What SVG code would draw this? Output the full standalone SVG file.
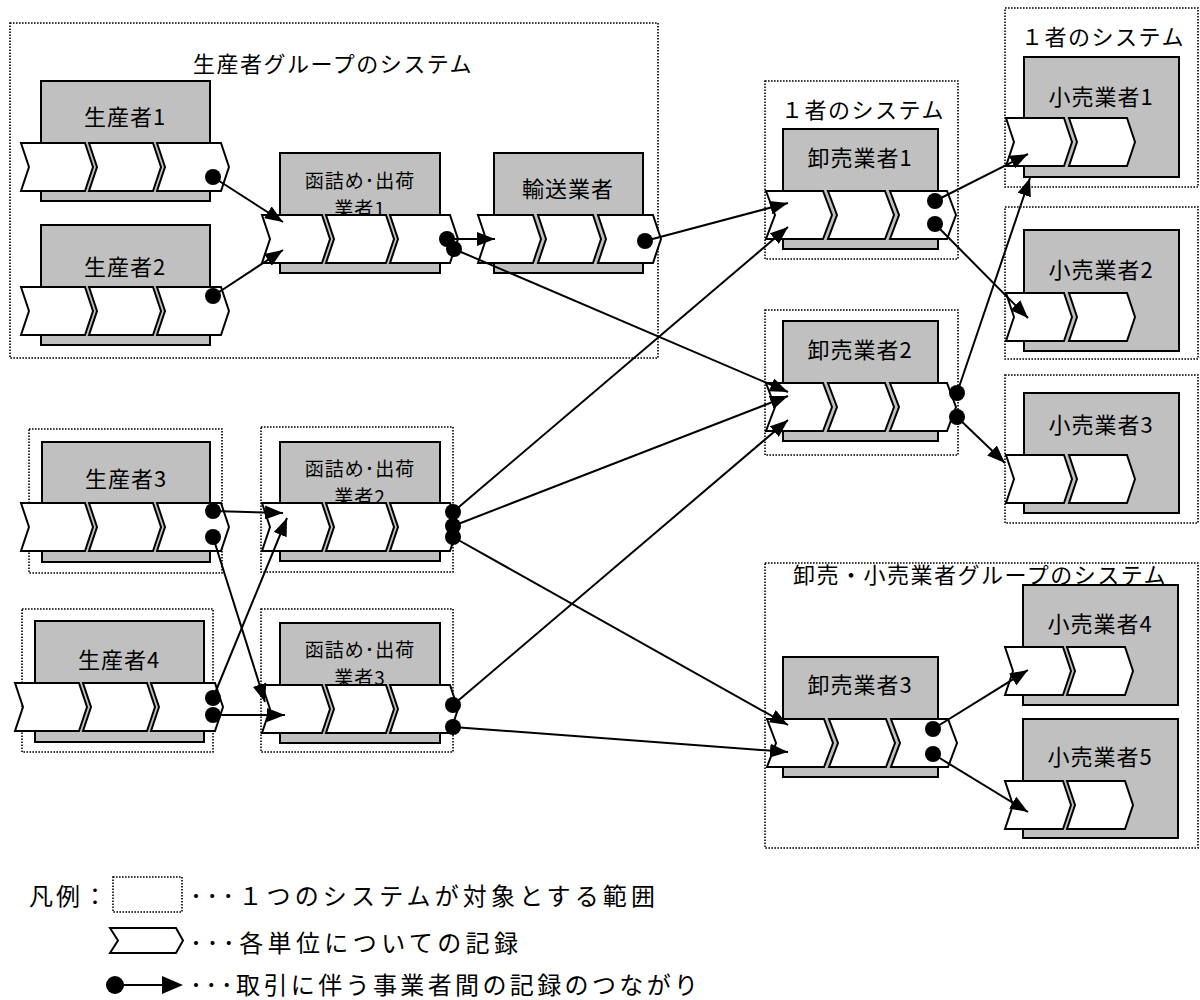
<svg xmlns="http://www.w3.org/2000/svg" width="1200" height="1000" viewBox="0 0 1200 1000">
<style>
text{font-family:"Noto Sans CJK JP","Noto Sans",sans-serif;fill:#000;}
.sys{fill:none;stroke:#000;stroke-width:1.6;stroke-dasharray:1.6 1.4;}
.box{fill:#c0c0c0;stroke:#000;stroke-width:2;}
.chev{fill:#fff;stroke:#000;stroke-width:2;stroke-linejoin:miter;}
.lbl{font-size:22px;letter-spacing:1px;text-anchor:middle;dominant-baseline:central;}
.lbl2{font-size:19px;letter-spacing:1px;text-anchor:middle;dominant-baseline:central;}
.ttl{font-size:22px;letter-spacing:1.5px;text-anchor:middle;dominant-baseline:central;}
.leg{font-size:24px;dominant-baseline:central;}
.conn{fill:none;stroke:#000;stroke-width:2;marker-start:url(#dot);marker-end:url(#arr);}
</style>
<defs>
<marker id="arr" markerUnits="userSpaceOnUse" viewBox="0 0 18 14" refX="18" refY="7" markerWidth="18" markerHeight="14" orient="auto"><path d="M0,0 L18,7 L0,14 z" fill="#000"/></marker>
<marker id="dot" markerUnits="userSpaceOnUse" viewBox="0 0 16 16" refX="8" refY="8" markerWidth="16" markerHeight="16"><circle cx="8" cy="8" r="8" fill="#000"/></marker>
</defs>
<rect width="1200" height="1000" fill="#fff"/>

<g id="sys-producer-group">
<rect class="sys" x="10" y="23" width="648" height="335"/>
<text class="ttl" x="333" y="62">生産者グループのシステム</text>
</g>
<g id="sys-wholesale1"><rect class="sys" x="765" y="81" width="193" height="178"/><text class="ttl" x="863" y="108">１者のシステム</text></g>
<g id="sys-wholesale2"><rect class="sys" x="765" y="310" width="193" height="145"/></g>
<g id="sys-retail1"><rect class="sys" x="1005" y="8" width="193" height="179"/><text class="ttl" x="1103" y="35">１者のシステム</text></g>
<g id="sys-retail2"><rect class="sys" x="1005" y="207" width="193" height="152"/></g>
<g id="sys-retail3"><rect class="sys" x="1005" y="375" width="193" height="148"/></g>
<g id="sys-producer3"><rect class="sys" x="29" y="429" width="193" height="144"/></g>
<g id="sys-packer2"><rect class="sys" x="261" y="427" width="192" height="145"/></g>
<g id="sys-producer4"><rect class="sys" x="22" y="609" width="191" height="143"/></g>
<g id="sys-packer3"><rect class="sys" x="261" y="609" width="192" height="143"/></g>
<g id="sys-wr-group"><rect class="sys" x="765" y="563" width="433" height="285"/><text class="ttl" x="980" y="573">卸売・小売業者グループのシステム</text></g>

<g id="producer1">
<rect class="box" x="41" y="81" width="169" height="120"/>
<text class="lbl" x="125" y="115">生産者1</text>
<polygon class="chev" points="21,143 85,143 93,167 85,191 21,191 29,167"/>
<polygon class="chev" points="89,143 153,143 161,167 153,191 89,191 97,167"/>
<polygon class="chev" points="157,143 221,143 229,167 221,191 157,191 165,167"/>
</g>
<g id="producer2">
<rect class="box" x="41" y="225" width="169" height="120"/>
<text class="lbl" x="125" y="265">生産者2</text>
<polygon class="chev" points="21,287 85,287 93,311 85,335 21,335 29,311"/>
<polygon class="chev" points="89,287 153,287 161,311 153,335 89,335 97,311"/>
<polygon class="chev" points="157,287 221,287 229,311 221,335 157,335 165,311"/>
</g>
<g id="packer1">
<rect class="box" x="280" y="153" width="160" height="120"/>
<text class="lbl2" x="360" y="179">函詰め･出荷</text>
<text class="lbl2" x="360" y="207">業者1</text>
<polygon class="chev" points="262,215 322,215 330,239 322,263 262,263 270,239"/>
<polygon class="chev" points="326,215 386,215 394,239 386,263 326,263 334,239"/>
<polygon class="chev" points="390,215 450,215 458,239 450,263 390,263 398,239"/>
</g>
<g id="transport">
<rect class="box" x="494" y="153" width="149" height="120"/>
<text class="lbl" x="568" y="187">輸送業者</text>
<polygon class="chev" points="478,215 533,215 541,239 533,263 478,263 486,239"/>
<polygon class="chev" points="538,215 593,215 601,239 593,263 538,263 546,239"/>
<polygon class="chev" points="598,215 653,215 661,239 653,263 598,263 606,239"/>
</g>
<g id="wholesaler1">
<rect class="box" x="783" y="129" width="155" height="120"/>
<text class="lbl" x="860" y="156">卸売業者1</text>
<polygon class="chev" points="766,191 823,191 832,215 823,239 766,239 775,215"/>
<polygon class="chev" points="828,191 885,191 894,215 885,239 828,239 837,215"/>
<polygon class="chev" points="890,191 947,191 956,215 947,239 890,239 899,215"/>
</g>
<g id="wholesaler2">
<rect class="box" x="783" y="321" width="155" height="120"/>
<text class="lbl" x="860" y="348">卸売業者2</text>
<polygon class="chev" points="766,383 823,383 832,407 823,431 766,431 775,407"/>
<polygon class="chev" points="828,383 885,383 894,407 885,431 828,431 837,407"/>
<polygon class="chev" points="890,383 947,383 956,407 947,431 890,431 899,407"/>
</g>
<g id="retailer1">
<rect class="box" x="1024" y="57" width="155" height="120"/>
<text class="lbl" x="1101" y="95">小売業者1</text>
<polygon class="chev" points="1006,118 1064,118 1072,142 1064,166 1006,166 1014,142"/>
<polygon class="chev" points="1069,118 1127,118 1135,142 1127,166 1069,166 1077,142"/>
</g>
<g id="retailer2">
<rect class="box" x="1024" y="230" width="155" height="121"/>
<text class="lbl" x="1101" y="268">小売業者2</text>
<polygon class="chev" points="1006,293 1064,293 1072,317 1064,341 1006,341 1014,317"/>
<polygon class="chev" points="1069,293 1127,293 1135,317 1127,341 1069,341 1077,317"/>
</g>
<g id="retailer3">
<rect class="box" x="1024" y="393" width="155" height="120"/>
<text class="lbl" x="1101" y="423">小売業者3</text>
<polygon class="chev" points="1006,455 1064,455 1072,479 1064,503 1006,503 1014,479"/>
<polygon class="chev" points="1069,455 1127,455 1135,479 1127,503 1069,503 1077,479"/>
</g>
<g id="producer3">
<rect class="box" x="42" y="442" width="168" height="120"/>
<text class="lbl" x="126" y="477">生産者3</text>
<polygon class="chev" points="21,503 85,503 93,527 85,551 21,551 29,527"/>
<polygon class="chev" points="89,503 153,503 161,527 153,551 89,551 97,527"/>
<polygon class="chev" points="157,503 221,503 229,527 221,551 157,551 165,527"/>
</g>
<g id="packer2">
<rect class="box" x="280" y="442" width="160" height="119"/>
<text class="lbl2" x="360" y="467">函詰め･出荷</text>
<text class="lbl2" x="360" y="495">業者2</text>
<polygon class="chev" points="262,503 322,503 330,527 322,551 262,551 270,527"/>
<polygon class="chev" points="326,503 386,503 394,527 386,551 326,551 334,527"/>
<polygon class="chev" points="390,503 450,503 458,527 450,551 390,551 398,527"/>
</g>
<g id="producer4">
<rect class="box" x="35" y="621" width="169" height="121"/>
<text class="lbl" x="119" y="658">生産者4</text>
<polygon class="chev" points="15,683 79,683 87,707 79,731 15,731 23,707"/>
<polygon class="chev" points="83,683 147,683 155,707 147,731 83,731 91,707"/>
<polygon class="chev" points="151,683 215,683 223,707 215,731 151,731 159,707"/>
</g>
<g id="packer3">
<rect class="box" x="280" y="623" width="160" height="120"/>
<text class="lbl2" x="360" y="648">函詰め･出荷</text>
<text class="lbl2" x="360" y="676">業者3</text>
<polygon class="chev" points="262,685 322,685 330,709 322,733 262,733 270,709"/>
<polygon class="chev" points="326,685 386,685 394,709 386,733 326,733 334,709"/>
<polygon class="chev" points="390,685 450,685 458,709 450,733 390,733 398,709"/>
</g>
<g id="wholesaler3">
<rect class="box" x="783" y="657" width="155" height="120"/>
<text class="lbl" x="860" y="683">卸売業者3</text>
<polygon class="chev" points="767,719 824,719 833,743 824,767 767,767 776,743"/>
<polygon class="chev" points="829,719 886,719 895,743 886,767 829,767 838,743"/>
<polygon class="chev" points="891,719 948,719 957,743 948,767 891,767 900,743"/>
</g>
<g id="retailer4">
<rect class="box" x="1023" y="585" width="155" height="120"/>
<text class="lbl" x="1100" y="622">小売業者4</text>
<polygon class="chev" points="1005,647 1063,647 1071,671 1063,695 1005,695 1013,671"/>
<polygon class="chev" points="1067,647 1125,647 1133,671 1125,695 1067,695 1075,671"/>
</g>
<g id="retailer5">
<rect class="box" x="1023" y="719" width="155" height="119"/>
<text class="lbl" x="1100" y="755">小売業者5</text>
<polygon class="chev" points="1005,781 1063,781 1071,805 1063,829 1005,829 1013,805"/>
<polygon class="chev" points="1067,781 1125,781 1133,805 1125,829 1067,829 1075,805"/>
</g>

<g id="connectors">
<path class="conn" d="M213,177 L283,222"/>
<path class="conn" d="M213,296 L283,250"/>
<path class="conn" d="M447,239 L495,239"/>
<path class="conn" d="M454,249 L788,392"/>
<path class="conn" d="M645,241 L788,203"/>
<path class="conn" d="M453,512 L788,227"/>
<path class="conn" d="M453,526 L788,396"/>
<path class="conn" d="M453,705 L788,420"/>
<path class="conn" d="M935,201 L1028,154"/>
<path class="conn" d="M935,224 L1028,318"/>
<path class="conn" d="M957,393 L1030,178"/>
<path class="conn" d="M957,417 L1005,463"/>
<path class="conn" d="M213,511 L283,513"/>
<path class="conn" d="M213,537 L265,702"/>
<path class="conn" d="M213,698 L287,518"/>
<path class="conn" d="M213,715 L285,715"/>
<path class="conn" d="M453,537 L788,725"/>
<path class="conn" d="M453,727 L788,752"/>
<path class="conn" d="M933,729 L1028,670"/>
<path class="conn" d="M933,754 L1028,812"/>
</g>

<g id="legend">
<text class="leg" x="29" y="894" letter-spacing="3">凡例：</text>
<rect class="sys" x="113" y="877" width="69" height="35"/>
<text class="leg" x="190" y="894" textLength="465" lengthAdjust="spacing">･･･１つのシステムが対象とする範囲</text>
<polygon class="chev" points="110,928 176,928 183,940.5 176,953 110,953 118,940.5"/>
<text class="leg" x="190" y="941" textLength="328" lengthAdjust="spacing">･･･各単位についての記録</text>
<circle cx="115" cy="985" r="9" fill="#000"/>
<line x1="115" y1="985" x2="165" y2="985" stroke="#000" stroke-width="2"/>
<path d="M162,976 L183,985 L162,994 z" fill="#000"/>
<text class="leg" x="190" y="983" font-size="23" textLength="508" lengthAdjust="spacing">･･･取引に伴う事業者間の記録のつながり</text>
</g>
</svg>
